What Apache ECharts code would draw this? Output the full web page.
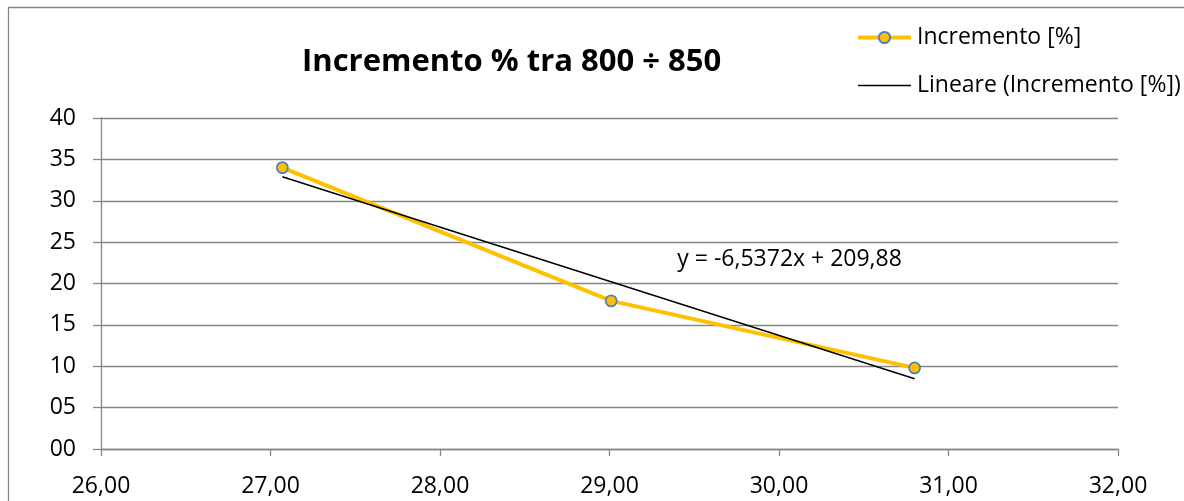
<!DOCTYPE html>
<html>
<head>
<meta charset="utf-8">
<script src="https://cdn.jsdelivr.net/npm/echarts@6/dist/echarts.min.js"></script>
<style>
html,body{margin:0;padding:0;background:#fff;}
#chart{width:1184px;height:501px;}
</style>
</head>
<body>
<div id="chart"></div>
<script>
// Data
const xValues = [27.07, 29.01, 30.80];
const incremento = [34.0, 17.9, 9.8];
// Linear trendline endpoints (y = -6,5372x + 209,88), read at the first and last x
const trendX = [27.07, 30.80];
const trendY = [32.9, 8.5];
const xTicks = [26, 27, 28, 29, 30, 31, 32];
const yTicks = [0, 5, 10, 15, 20, 25, 30, 35, 40];
const titleText = 'Incremento % tra 800 ÷ 850';
const seriesName = 'Incremento [%]';
const trendName = 'Lineare (Incremento [%])';
const equationText = 'y = -6,5372x + 209,88';
const equationPos = [29.40, 22.9];

const FONT = 'Open Sans';
const GRID = '#868686';

const chart = echarts.init(document.getElementById('chart'), null, {renderer: 'canvas'});
chart.setOption({
  backgroundColor: '#ffffff',
  animation: false,
  textStyle: {fontFamily: FONT},
  graphic: [{
    type: 'rect',
    shape: {x: 8.5, y: 7.5, width: 1300, height: 700},
    style: {fill: 'none', stroke: GRID, lineWidth: 1.3},
    silent: true, z: -10
  }],
  title: {
    text: titleText,
    left: 302, top: 47,
    textStyle: {fontFamily: FONT, fontWeight: 'bold', fontSize: 31, color: '#000'},
    padding: 0
  },
  legend: {
    orient: 'vertical',
    left: 856, top: 26,
    itemWidth: 53, itemHeight: 14, itemGap: 25,
    padding: 0,
    textStyle: {fontFamily: FONT, fontSize: 23, color: '#000', padding: [0, 0, 0, 1]},
    data: [
      {name: seriesName, lineStyle: {width: 4, color: '#FFC000'}},
      {name: trendName, lineStyle: {width: 1.5, color: '#000'},
       itemStyle: {opacity: 0, color: 'transparent', borderWidth: 0}}
    ]
  },
  grid: {left: 101, right: 66, top: 118, bottom: 52, containLabel: false},
  xAxis: {
    type: 'value',
    min: xTicks[0], max: xTicks[xTicks.length - 1], interval: 1,
    axisLine: {show: true, onZero: false, lineStyle: {color: GRID, width: 1.3}},
    axisTick: {show: true, inside: false, length: 7, lineStyle: {color: GRID, width: 1.3}},
    axisLabel: {
      margin: 26, color: '#000', fontFamily: FONT, fontSize: 23,
      formatter: v => v.toFixed(2).replace('.', ',')
    },
    splitLine: {show: false}
  },
  yAxis: {
    type: 'value',
    min: yTicks[0], max: yTicks[yTicks.length - 1], interval: 5,
    axisLine: {show: true, lineStyle: {color: GRID, width: 1.3}},
    axisTick: {show: true, inside: false, length: 8, lineStyle: {color: GRID, width: 1.3}},
    axisLabel: {
      margin: 25, color: '#000', fontFamily: FONT, fontSize: 23,
      formatter: v => String(v).padStart(2, '0')
    },
    splitLine: {show: true, lineStyle: {color: GRID, width: 1.3}}
  },
  series: [
    {
      name: seriesName,
      type: 'line',
      data: xValues.map((x, i) => [x, incremento[i]]),
      symbol: 'circle', symbolSize: 11,
      lineStyle: {color: '#FFC000', width: 4},
      itemStyle: {color: '#FFC000', borderColor: '#4F81BD', borderWidth: 1.8},
      z: 2
    },
    {
      name: trendName,
      type: 'line',
      data: trendX.map((x, i) => [x, trendY[i]]),
      symbol: 'none',
      lineStyle: {color: '#000', width: 1.5},
      itemStyle: {color: '#000'},
      z: 3,
      markPoint: {
        symbol: 'circle', symbolSize: 0,
        label: {
          show: true, position: 'right', distance: 0,
          formatter: equationText, color: '#000', fontFamily: FONT, fontSize: 23
        },
        data: [{coord: equationPos}]
      }
    }
  ]
});
</script>
</body>
</html>
